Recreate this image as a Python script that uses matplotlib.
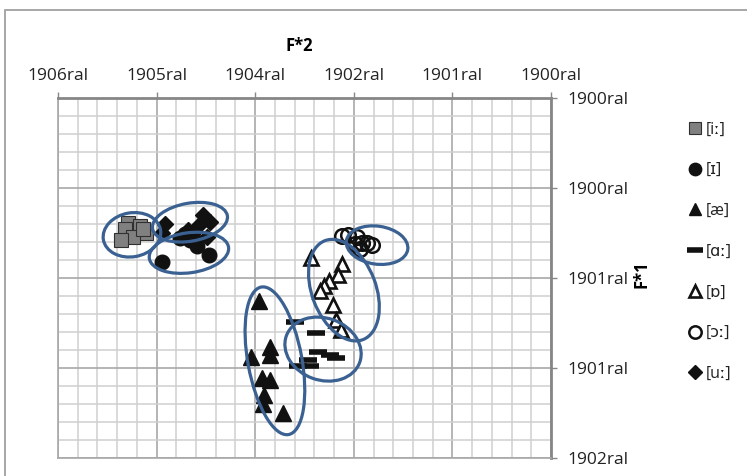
import matplotlib
matplotlib.use("Agg")
import matplotlib.pyplot as plt
from matplotlib.patches import Ellipse, Rectangle
from matplotlib.transforms import ScaledTranslation
from matplotlib.ticker import MultipleLocator

plt.rcParams['font.family'] = ['Open Sans', 'DejaVu Sans']

# formant values (Hz)
iy_f2 = [2145, 2084, 2160, 2054, 2120, 2181, 2069]
iy_f1 = [278, 284, 291, 300, 309, 316, 291]
ih_f2 = [1973, 1734, 1856, 1831, 1795, 1881, 1815]
ih_f1 = [364, 349, 302, 316, 329, 311, 298]
ae_f2 = [1481, 1425, 1425, 1521, 1466, 1425, 1455, 1460, 1359]
ae_f1 = [451, 553, 571, 576, 622, 627, 660, 680, 700]
aa_f2 = [1298, 1192, 1182, 1090, 1283, 1222, 1232, 1121]
aa_f1 = [498, 522, 564, 578, 596, 596, 582, 571]
oh_f2 = [1217, 1060, 1080, 1126, 1151, 1171, 1105, 1090, 1065]
oh_f1 = [356, 369, 393, 407, 418, 429, 460, 493, 516]
ao_f2 = [1060, 1029, 984, 958, 933, 908, 994, 969]
ao_f1 = [307, 304, 309, 322, 322, 327, 324, 336]
uw_f2 = [1957, 1765, 1729, 1973, 1744, 1780, 1841]
uw_f1 = [280, 260, 276, 300, 309, 280, 293]

labels = ['[iː]', '[ɪ]', '[æ]', '[ɑː]', '[ɒ]', '[ɔː]', '[uː]']

x_ticks = [2500, 2000, 1500, 1000, 500, 0]
x_ticklabels = ['1906ral', '1905ral', '1904ral', '1902ral', '1901ral', '1900ral']
y_ticks = [0, 200, 400, 600, 800]
y_ticklabels = ['1900ral', '1900ral', '1901ral', '1901ral', '1902ral']

# vowel-space ellipses: centre F2, centre F1, width px, height px, angle
ell_f2 = [2125, 1831, 1836, 1400, 1156, 1050, 882]
ell_f1 = [304, 276, 344, 584, 558, 427, 327]
ell_w = [58, 76, 80, 54, 78, 64, 62]
ell_h = [44, 38, 40, 150, 62, 106, 38]
ell_ang = [10, 10, 8, 10.5, -20, 21, -8]

fig = plt.figure(figsize=(7.47, 4.76), dpi=100)
ax = fig.add_axes([58 / 747, 1 - 458 / 476, 493 / 747, 360 / 476])

ax.plot(iy_f2, iy_f1, ls='none', marker='s', ms=10, mfc='#808080', mec='#303030', mew=0.8, label=labels[0])
ax.plot(ih_f2, ih_f1, ls='none', marker='o', ms=10.5, mfc='#111111', mec='#111111', label=labels[1])
ax.plot(ae_f2, ae_f1, ls='none', marker='^', ms=11, mfc='#111111', mec='#111111', label=labels[2])
ax.plot(aa_f2, aa_f1, ls='none', marker='_', ms=13.5, mew=4, mec='#111111', label=labels[3])
ax.plot(oh_f2, oh_f1, ls='none', marker='^', ms=10.5, mfc='white', mec='#111111', mew=1.9, label=labels[4])
ax.plot(ao_f2, ao_f1, ls='none', marker='o', ms=10.5, mfc='none', mec='#111111', mew=1.8, label=labels[5])
ax.plot(uw_f2, uw_f1, ls='none', marker='D', ms=8.5, mfc='#111111', mec='#111111', label=labels[6])

ax.set_xlim(2500, 0)
ax.set_ylim(800, 0)

for cx, cy, w, h, a in zip(ell_f2, ell_f1, ell_w, ell_h, ell_ang):
    tr = fig.dpi_scale_trans + ScaledTranslation(cx, cy, ax.transData)
    ax.add_patch(Ellipse((0, 0), w / 100, h / 100, angle=a, transform=tr,
                         fill=False, ec='#3A6191', lw=2.3, zorder=5))

ax.xaxis.tick_top()
ax.yaxis.tick_right()
ax.set_xticks(x_ticks)
ax.set_xticklabels(x_ticklabels)
ax.set_yticks(y_ticks)
ax.set_yticklabels(y_ticklabels)
ax.xaxis.set_minor_locator(MultipleLocator(100))
ax.yaxis.set_minor_locator(MultipleLocator(40))
ax.tick_params(which='major', direction='out', length=4, width=1, color='#888888',
               labelsize=12.5, labelcolor='#222222')
ax.tick_params(axis='x', which='major', pad=6)
ax.tick_params(axis='y', which='major', pad=8)
ax.tick_params(which='minor', length=0)
ax.grid(which='minor', color='#CFCFCF', lw=1.1)
ax.grid(which='major', color='#A8A8A8', lw=1.2)
ax.set_axisbelow(True)
for side in ['left', 'bottom']:
    ax.spines[side].set_color('#A8A8A8')
    ax.spines[side].set_linewidth(1.2)
for side in ['top', 'right']:
    ax.spines[side].set_color('#868686')
    ax.spines[side].set_linewidth(2)

ax.set_xlabel('F*2', fontweight='bold', fontsize=12)
ax.xaxis.set_label_position('top')
ax.xaxis.set_label_coords(0.49, 1.13)
ax.set_ylabel('F*1', fontweight='bold', fontsize=12)
ax.yaxis.set_label_position('right')
ax.yaxis.set_label_coords(1.165, 0.51)

fig.legend(loc='upper left', bbox_to_anchor=(674 / 747, 1 - 107 / 476), frameon=False,
           fontsize=11.5, labelspacing=1.55, handlelength=0.8, handletextpad=0.3,
           markerscale=0.85, labelcolor='#222222')

fig.patches.append(Rectangle((5 / 747, -0.1), 1.2, 1 - 10 / 476 + 0.1, transform=fig.transFigure,
                             fill=False, ec='#A0A0A0', lw=1.3))

fig.savefig('out.png', dpi=100)
